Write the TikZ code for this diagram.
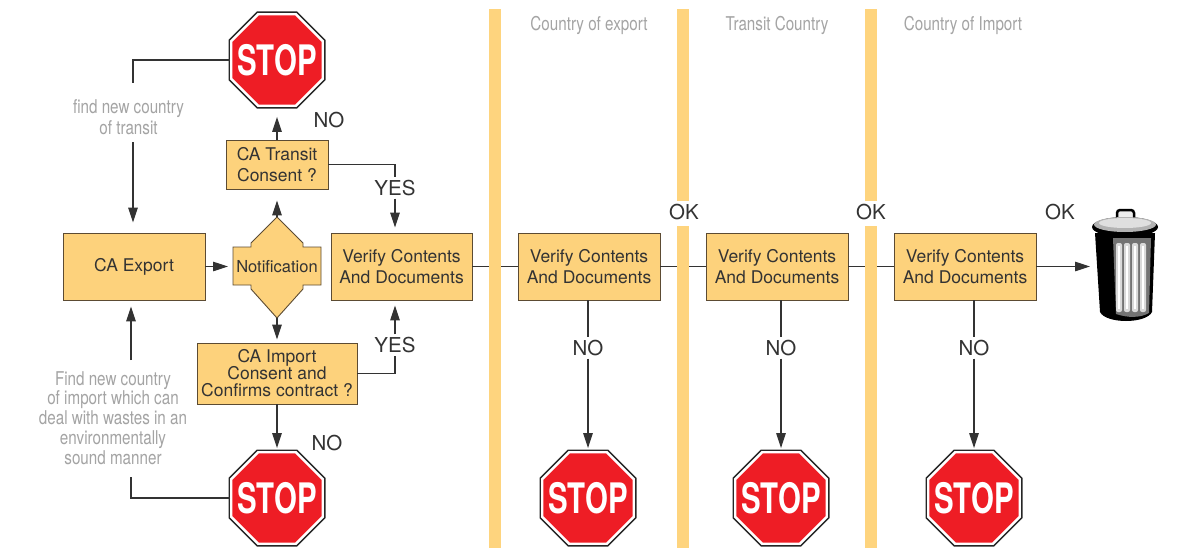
\documentclass[tikz,border=0pt]{standalone}
\usepackage{fontspec}
\setmainfont{TeX Gyre Heros}
\newfontfamily\grayfont{TeX Gyre Heros}[FakeStretch=0.8]
\newfontfamily\stopfont{TeX Gyre Heros}[FakeStretch=0.7]
\usetikzlibrary{shapes.geometric,arrows.meta,calc}
\pgfdeclarelayer{front}
\pgfsetlayers{main,front}
\definecolor{boxfill}{HTML}{FDD27C}
\definecolor{barfill}{HTML}{FED47E}
\definecolor{boxline}{HTML}{5C4B33}
\definecolor{txt}{HTML}{333333}
\definecolor{gtxt}{HTML}{A4A4A4}
\definecolor{stopred}{HTML}{EE1D25}
\newcommand\mystop[2]{%
  \node[stopouter] at #2 {};
  \node[stopinner] (#1) at #2 {};
  \node[stoptext] (#1txt) at #2 {STOP};}
\begin{document}
\begin{tikzpicture}[x=1pt,y=-1pt,
  box/.style={draw=boxline, fill=boxfill, line width=0.9pt, align=center, inner sep=0pt, text=txt, font=\fontsize{17.5}{21.5}\selectfont},
  lab/.style={text=txt, font=\fontsize{20.5}{20}\selectfont, inner sep=3pt, text height=14.8pt, text depth=0pt},
  note/.style={text=gtxt, align=center, inner sep=0pt, font=\grayfont\fontsize{19}{20.5}\selectfont},
  conn/.style={draw=txt, line width=1.1pt},
  arr/.style={conn, -{Triangle[length=15pt,width=9.5pt]}},
  bar/.style={fill=barfill},
  stopouter/.style={regular polygon, regular polygon sides=8, minimum size=105pt, fill=black!85, inner sep=0pt, outer sep=0pt},
  stopinner/.style={regular polygon, regular polygon sides=8, minimum size=99pt, fill=stopred, draw=white, line width=2.4pt, inner sep=0pt},
  stoptext/.style={text=white, inner sep=0pt, font=\stopfont\bfseries\fontsize{42}{42}\selectfont}]
\fill[white] (0,0) rectangle (1177,551);
\useasboundingbox (0,0) rectangle (1177,551);

% boxes
\node[box, minimum width=142pt, minimum height=67pt] (export) at (134,266.5) {CA Export};
\node[box, minimum width=102pt, minimum height=49pt] (transit) at (277,164.5) {CA Transit\\Consent ?};
\node[box, minimum width=160pt, minimum height=61pt, font=\fontsize{17.5}{17}\selectfont] (import) at (277,373.5) {CA Import\\Consent and\\Confirms contract ?};
\node[box, minimum width=141pt, minimum height=67pt] (v1) at (401.5,266.5) {Verify Contents\\And Documents};
\node[box, minimum width=142pt, minimum height=67pt] (v2) at (589,266.5) {Verify Contents\\And Documents};
\node[box, minimum width=142pt, minimum height=67pt] (v3) at (777,266.5) {Verify Contents\\And Documents};
\node[box, minimum width=142pt, minimum height=67pt] (v4) at (965,266.5) {Verify Contents\\And Documents};

% notification
\draw[draw=boxline, fill=boxfill, line width=0.9pt] (277,217) -- (251,243) -- (251,247) -- (233,247) -- (233,285) -- (251,285) -- (251,289) -- (277,318) -- (303,289) -- (303,285) -- (321,285) -- (321,247) -- (303,247) -- (303,243) -- cycle;
\node[text=txt, font=\fontsize{16.5}{18}\selectfont, inner sep=0pt] (notif) at (277,266.5) {Notification};
\coordinate (notifT) at (277,217);
\coordinate (notifB) at (277,318);
\coordinate (notifL) at (233,266.5);

% stop signs
\mystop{stopT}{(277,60)}
\mystop{stopB}{(277,498)}
\mystop{stop2}{(588,498)}
\mystop{stop3}{(781,498)}
\mystop{stop4}{(974,498)}

% labels
\node[lab] (noT) at (329,120) {NO};
\node[lab] (noB) at (327,443) {NO};
\node[lab] (yes1) at (395,188) {YES};
\node[lab] (yes2) at (395,345) {YES};
\node[lab] (no2) at (588,348) {NO};
\node[lab] (no3) at (781,348) {NO};
\node[lab] (no4) at (974,348) {NO};
\node[lab] (ok1) at (684,212) {OK};
\node[lab] (ok2) at (871,212) {OK};
\node[lab] (ok3) at (1060,212) {OK};

\node[note] (h1) at (589,25) {Country of export};
\node[note] (h2) at (777,25) {Transit Country};
\node[note] (h3) at (963,25) {Country of Import};
\node[note, font=\grayfont\fontsize{19}{20.7}\selectfont] (findT) at (128.5,117) {find new country\\of transit};
\node[note, font=\grayfont\fontsize{19}{19.8}\selectfont] (findB) at (113,418) {Find new country\\of import which can\\deal with wastes in an\\environmentally\\sound manner};

\coordinate (cT1) at (133,83);
\coordinate (cT2) at (133,142);
\coordinate (cB1) at (131,477);
\coordinate (cB2) at (131,360);
\coordinate (trash) at (1093,266.5);

% connectors
\draw[arr, shorten >=5pt] (export.east) -- (notifL);
\draw[arr, shorten >=11pt] (notifT) -- (transit.south);
\draw[arr, shorten >=3pt] (notifB) -- (import.north);
\draw[arr, shorten >=10pt] (transit.north) -- (stopT.south);
\draw[arr, shorten >=3pt] (import.south) -- (stopB.north);
\draw[conn] (transit.east) -| (yes1.north);
\draw[arr, shorten >=5pt] (yes1.south) -- (yes1.south |- v1.north);
\draw[conn] (import.east) -| (yes2.south);
\draw[arr, shorten >=5pt] (yes2.north) -- (yes2.north |- v1.south);
\draw[conn] (stopT.west) -| (cT1);
\draw[arr, shorten >=10pt] (cT2) -- (cT2 |- export.north);
\draw[conn] (stopB.west) -| (cB1);
\draw[arr, shorten >=6pt] (cB2) -- (cB2 |- export.south);
\draw[conn] (v1.east) -- (v2.west);
\draw[conn] (v2.east) -- (v3.west);
\draw[conn] (v3.east) -- (v4.west);
\draw[arr, shorten >=3pt] (v4.east) -- (trash);
\draw[conn] (no2.north |- v2.south) -- (no2.north);
\draw[arr, shorten >=3pt] (no2.south) -- (stop2.north);
\draw[conn] (no3.north |- v3.south) -- (no3.north);
\draw[arr, shorten >=3pt] (no3.south) -- (stop3.north);
\draw[conn] (no4.north |- v4.south) -- (no4.north);
\draw[arr, shorten >=3pt] (no4.south) -- (stop4.north);

% trash can
\fill[black] (1095,233) -- (1100,312) .. controls (1106,324) and (1146,324) .. (1152,312) -- (1155,233) -- cycle;
\fill[black!55] (1113,238) -- (1116,314) .. controls (1128,318) and (1140,318) .. (1149,313) -- (1151,238) -- cycle;
\foreach \x in {1119,1127,1135,1143} {
  \fill[gray!30, rounded corners=2pt] (\x-3,243) rectangle (\x+3,312);
  \fill[white] (\x-0.8,246) rectangle (\x+0.8,309);
}
\draw[black, line width=2.5pt, rounded corners=3pt, fill=gray!15] (1117,222) -- (1117,210) -- (1134,210) -- (1134,222);
\fill[black] (1125,227) ellipse [x radius=33pt, y radius=10pt];
\fill[gray!60] (1125,224.5) ellipse [x radius=31pt, y radius=7.5pt];
\fill[gray!25] (1125,223) ellipse [x radius=26pt, y radius=5pt];

% bars
\begin{pgfonlayer}{front}
\fill[bar] (489,9) rectangle (501,548);
\fill[bar] (677,9) rectangle (689,201);
\fill[bar] (677,226) rectangle (689,548);
\fill[bar] (865,9) rectangle (877,201);
\fill[bar] (865,226) rectangle (877,548);
\end{pgfonlayer}
\end{tikzpicture}
\end{document}
